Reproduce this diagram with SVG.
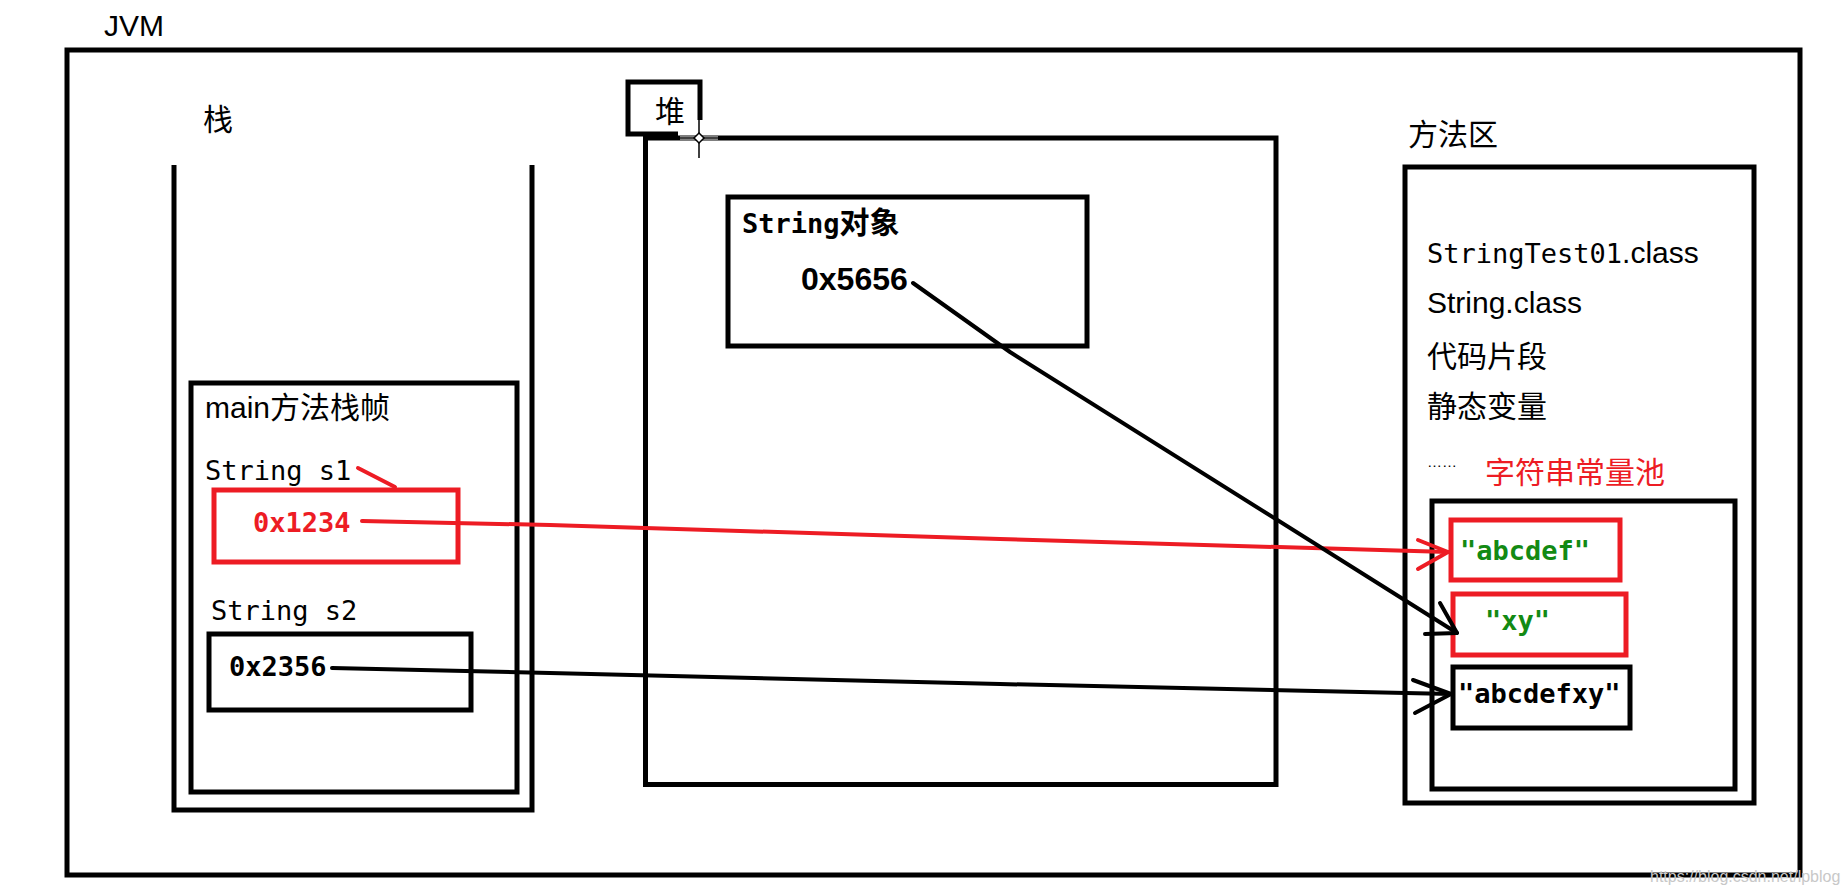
<svg xmlns="http://www.w3.org/2000/svg" width="1847" height="896" viewBox="0 0 1847 896">
<style>
.box{fill:none;stroke:#000;stroke-width:5}
.rbox{fill:none;stroke:#ed1c24;stroke-width:5}
.sans{font-family:"Liberation Sans","Noto Sans CJK SC",sans-serif;font-size:30px;fill:#000}
.mono{font-family:"DejaVu Sans Mono","Liberation Mono",monospace;font-size:27px;fill:#000}
.b{font-weight:bold}
.red{fill:#ed1c24}
.green{fill:#138a13}
.lk{fill:none;stroke:#000;stroke-width:4;stroke-linecap:round;stroke-linejoin:round}
.lr{fill:none;stroke:#ed1c24;stroke-width:4;stroke-linecap:round;stroke-linejoin:round}
</style>
<rect width="1847" height="896" fill="#fff"/>
<g id="jvm">
<text class="sans" x="104" y="36">JVM</text>
<rect class="box" x="67" y="50" width="1733" height="825"/>
</g>
<g id="stack">
<text class="sans" x="203" y="130">栈</text>
<polyline class="box" points="174,165 174,810 532,810 532,165"/>
</g>
<g id="mainframe">
<rect class="box" x="191" y="383" width="326" height="409"/>
<text class="sans" x="205" y="418">main方法栈帧</text>
<text class="mono" x="205" y="480">String s1</text>
<text class="mono" x="211" y="620">String s2</text>
</g>
<g id="s1">
<rect class="rbox" x="214" y="490" width="244" height="72"/>
<text class="mono b red" x="253" y="532">0x1234</text>
</g>
<g id="s2">
<rect class="box" x="209" y="634" width="262" height="76"/>
<text class="mono b" x="229" y="676">0x2356</text>
</g>
<g id="heap">
<polyline class="box" points="700,120 700,82 628,82 628,134 678,134"/>
<text class="sans" x="655" y="122">堆</text>
<rect class="box" x="645.5" y="138" width="630.5" height="646.5"/>
<g stroke="#000" stroke-width="1.5">
<line x1="699" y1="120" x2="699" y2="158"/>
<line x1="680" y1="138" x2="718" y2="138" stroke="#fff" stroke-width="3"/>
<line x1="680" y1="138" x2="718" y2="138"/>
<polygon points="699,133 704,138 699,143 694,138" fill="#fff"/>
</g>
</g>
<g id="stringobj">
<rect class="box" x="728" y="197" width="359" height="149"/>
<text class="mono b" x="742" y="233"><tspan>String</tspan><tspan class="sans">对象</tspan></text>
<text class="sans b" x="801" y="290" style="font-size:32px">0x5656</text>
</g>
<g id="methodarea">
<text class="sans" x="1408" y="145">方法区</text>
<rect class="box" x="1405" y="167" width="349" height="636"/>
<text class="mono" x="1427" y="263"><tspan>StringTest01</tspan><tspan class="sans">.class</tspan></text>
<text class="sans" x="1427" y="313">String.class</text>
<text class="sans" x="1427" y="367">代码片段</text>
<text class="sans" x="1427" y="417">静态变量</text>
<text class="sans" x="1427" y="467" style="font-size:15px">……</text>
<text class="sans red" x="1485" y="483">字符串常量池</text>
</g>
<g id="pool">
<rect class="box" x="1432" y="501" width="303" height="288"/>
</g>
<g id="abcdef">
<rect class="rbox" x="1451" y="520" width="169" height="60"/>
<text class="mono b green" x="1460" y="560">"abcdef"</text>
</g>
<g id="xy">
<rect class="rbox" x="1453" y="594" width="173" height="61"/>
<text class="mono b green" x="1485" y="630">"xy"</text>
</g>
<g id="abcdefxy">
<rect class="box" x="1453" y="667" width="177" height="61"/>
<text class="mono b" x="1458" y="703">"abcdefxy"</text>
</g>
<g id="connectors">
<polyline class="lr" points="358,468 395,487"/>
<polyline class="lr" points="362,521 550,525 1000,539 1448,552"/>
<polyline class="lr" points="1418,540 1448,552 1418,569"/>
<polyline class="lk" points="913,283 1010,352 1457,633"/>
<polyline class="lk" points="1440,603 1457,633 1425,634"/>
<polyline class="lk" points="332,668 550,673 1000,684 1451,694"/>
<polyline class="lk" points="1413,680 1451,694 1415,713"/>
</g>
<text x="1650" y="882" font-family="Liberation Sans, sans-serif" font-size="16" fill="#c8c8c8">https://blog.csdn.net/lpblog</text>
</svg>
